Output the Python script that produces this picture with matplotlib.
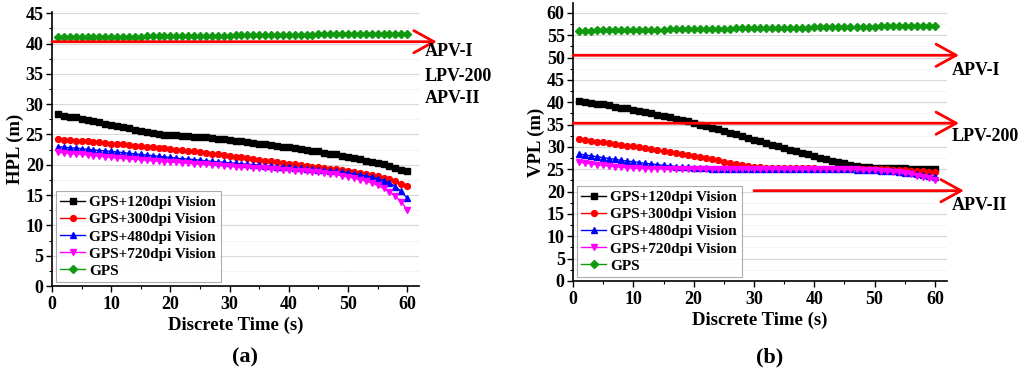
import matplotlib
matplotlib.use('Agg')
import matplotlib.pyplot as plt
from matplotlib.ticker import MultipleLocator
import numpy as np

plt.rcParams['font.family'] = ['Liberation Serif', 'DejaVu Serif']
plt.rcParams['font.weight'] = 'bold'
plt.rcParams['axes.labelweight'] = 'bold'

# =================================================
# data
t = list(range(1, 61))

hpl_120 = [28.3, 28.1, 27.9, 27.8, 27.6, 27.4, 27.2, 27.0, 26.8, 26.6,
           26.4, 26.2, 26.0, 25.8, 25.6, 25.4, 25.2, 25.0, 24.95, 24.9,
           24.85, 24.8, 24.7, 24.65, 24.55, 24.5, 24.4, 24.3, 24.2, 24.1,
           24.0, 23.9, 23.8, 23.65, 23.5, 23.4, 23.3, 23.15, 23.0, 22.9,
           22.75, 22.6, 22.5, 22.35, 22.2, 22.0, 21.85, 21.7, 21.5, 21.3,
           21.1, 20.9, 20.7, 20.5, 20.3, 20.1, 19.8, 19.5, 19.2, 18.9]
hpl_300 = [24.2, 24.15, 24.1, 24.0, 23.95, 23.9, 23.8, 23.7, 23.6, 23.5,
           23.4, 23.35, 23.25, 23.15, 23.05, 22.95, 22.9, 22.8, 22.7, 22.6,
           22.5, 22.4, 22.3, 22.2, 22.05, 21.95, 21.85, 21.7, 21.55, 21.4,
           21.3, 21.2, 21.05, 20.95, 20.8, 20.7, 20.55, 20.4, 20.3, 20.15,
           20.05, 19.9, 19.8, 19.7, 19.6, 19.5, 19.35, 19.25, 19.1, 18.95,
           18.8, 18.65, 18.5, 18.3, 18.1, 17.9, 17.6, 17.3, 16.9, 16.5]
hpl_480 = [23.0, 22.9, 22.8, 22.75, 22.65, 22.55, 22.45, 22.35, 22.3, 22.2,
           22.1, 22.0, 21.9, 21.8, 21.7, 21.6, 21.5, 21.4, 21.3, 21.2,
           21.1, 21.0, 20.95, 20.85, 20.75, 20.65, 20.55, 20.5, 20.4, 20.3,
           20.25, 20.15, 20.1, 20.0, 19.95, 19.85, 19.8, 19.7, 19.65, 19.55,
           19.5, 19.4, 19.35, 19.25, 19.2, 19.1, 19.0, 18.9, 18.8, 18.65,
           18.5, 18.35, 18.15, 17.95, 17.7, 17.4, 17.0, 16.4, 15.6, 14.5]
hpl_720 = [22.05, 21.95, 21.85, 21.75, 21.7, 21.6, 21.5, 21.4, 21.3, 21.2,
           21.1, 21.05, 20.95, 20.9, 20.8, 20.75, 20.65, 20.6, 20.5, 20.45,
           20.4, 20.3, 20.25, 20.2, 20.1, 20.05, 20.0, 19.9, 19.85, 19.75,
           19.7, 19.65, 19.6, 19.5, 19.45, 19.4, 19.3, 19.25, 19.2, 19.1,
           19.05, 19.0, 18.9, 18.85, 18.75, 18.65, 18.5, 18.4, 18.2, 18.0,
           17.8, 17.55, 17.3, 17.0, 16.6, 16.1, 15.5, 14.8, 13.9, 12.6]
hpl_gps = [41.00, 41.01, 41.02, 41.03, 41.04, 41.05, 41.07, 41.08, 41.09, 41.10,
           41.11, 41.12, 41.13, 41.14, 41.15, 41.17, 41.18, 41.19, 41.20, 41.21,
           41.22, 41.23, 41.24, 41.25, 41.27, 41.28, 41.29, 41.30, 41.31, 41.32,
           41.33, 41.34, 41.35, 41.37, 41.38, 41.39, 41.40, 41.41, 41.42, 41.43,
           41.44, 41.45, 41.47, 41.48, 41.49, 41.50, 41.51, 41.52, 41.53, 41.54,
           41.55, 41.57, 41.58, 41.59, 41.60, 41.61, 41.62, 41.63, 41.64, 41.65]

vpl_120 = [40.3, 40.1, 39.9, 39.7, 39.5, 39.3, 39.0, 38.8, 38.6, 38.3,
           38.0, 37.8, 37.5, 37.2, 36.9, 36.6, 36.3, 36.0, 35.7, 35.4,
           35.0, 34.7, 34.3, 34.0, 33.6, 33.2, 32.8, 32.4, 32.0, 31.6,
           31.3, 30.9, 30.5, 30.1, 29.7, 29.4, 29.0, 28.7, 28.3, 28.0,
           27.6, 27.3, 26.9, 26.6, 26.3, 26.0, 25.7, 25.5, 25.4, 25.3,
           25.3, 25.25, 25.2, 25.2, 25.2, 25.15, 25.15, 25.1, 25.1, 25.1]
vpl_300 = [31.8, 31.6, 31.4, 31.2, 31.0, 30.8, 30.6, 30.5, 30.3, 30.1,
           29.9, 29.7, 29.5, 29.3, 29.1, 28.9, 28.6, 28.4, 28.2, 28.0,
           27.7, 27.5, 27.2, 27.0, 26.7, 26.5, 26.2, 26.0, 25.7, 25.5,
           25.4, 25.35, 25.3, 25.3, 25.25, 25.25, 25.2, 25.2, 25.2, 25.2,
           25.15, 25.15, 25.15, 25.1, 25.1, 25.1, 25.1, 25.1, 25.05, 25.0,
           25.0, 24.95, 24.9, 24.85, 24.8, 24.7, 24.6, 24.5, 24.4, 24.3]
vpl_480 = [28.4, 28.2, 28.0, 27.8, 27.6, 27.4, 27.2, 27.0, 26.8, 26.7,
           26.5, 26.3, 26.2, 26.0, 25.9, 25.8, 25.6, 25.5, 25.4, 25.3,
           25.25, 25.2, 25.15, 25.1, 25.1, 25.05, 25.05, 25.0, 25.0, 25.0,
           25.0, 25.0, 25.0, 25.0, 25.0, 25.0, 25.0, 25.0, 25.0, 25.0,
           25.0, 25.0, 25.0, 25.0, 24.95, 24.95, 24.9, 24.9, 24.85, 24.8,
           24.7, 24.6, 24.5, 24.35, 24.2, 24.05, 23.9, 23.7, 23.5, 23.3]
vpl_720 = [26.6, 26.4, 26.2, 26.0, 25.85, 25.7, 25.55, 25.45, 25.35, 25.25,
           25.2, 25.15, 25.1, 25.1, 25.05, 25.05, 25.0, 25.0, 25.0, 25.0,
           25.0, 25.0, 25.0, 25.0, 25.0, 25.0, 25.0, 25.0, 25.0, 25.0,
           25.0, 25.0, 25.0, 25.0, 25.0, 25.0, 25.0, 25.0, 25.0, 25.0,
           25.0, 25.0, 25.0, 25.0, 24.95, 24.95, 24.95, 24.9, 24.9, 24.85,
           24.7, 24.6, 24.45, 24.3, 24.1, 23.9, 23.6, 23.3, 23.0, 22.7]
vpl_gps = [56.00, 56.02, 56.04, 56.06, 56.07, 56.09, 56.11, 56.13, 56.15, 56.17,
           56.19, 56.20, 56.22, 56.24, 56.26, 56.28, 56.30, 56.32, 56.34, 56.35,
           56.37, 56.39, 56.41, 56.43, 56.45, 56.47, 56.49, 56.50, 56.52, 56.54,
           56.56, 56.58, 56.60, 56.62, 56.64, 56.65, 56.67, 56.69, 56.71, 56.73,
           56.75, 56.77, 56.79, 56.80, 56.82, 56.84, 56.86, 56.88, 56.90, 56.92,
           56.94, 56.95, 56.97, 56.99, 57.01, 57.03, 57.05, 57.07, 57.09, 57.10]

labels = ['GPS+120dpi Vision', 'GPS+300dpi Vision', 'GPS+480dpi Vision',
          'GPS+720dpi Vision', 'GPS']
colors = ['black', 'red', 'blue', 'magenta', '#119911']
markers = ['s', 'o', '^', 'v', 'D']

# alert limits: (level, x start, x end) and their labels (text, x, y)
hpl_limits = [(40.3, 0, 65.0)]
hpl_limit_text = [('APV-I', 63.0, 38.7), ('LPV-200', 63.0, 34.5), ('APV-II', 63.0, 30.9)]
vpl_limits = [(50.5, 0, 64.0), (35.3, 0, 64.0), (20.2, 30.0, 64.8)]
vpl_limit_text = [('APV-I', 62.8, 47.2), ('LPV-200', 62.8, 32.3), ('APV-II', 62.8, 17.0)]


def draw_panel(ax, series, ylabel, ymax, limits, limit_text):
    for s, lab, c, mk in zip(series, labels, colors, markers):
        ms = 3.6 if mk == 'D' else 4.2
        ax.plot(t, s, color=c, marker=mk, markersize=ms, lw=1.0, label=lab)
    for lim in limits:
        ax.annotate('', xy=(lim[2], lim[0]), xytext=(lim[1], lim[0]),
                    annotation_clip=False,
                    arrowprops=dict(arrowstyle='->,head_length=1.45,head_width=0.8',
                                    color='red', lw=2.0, shrinkA=0, shrinkB=0))
    for txt, x, y in limit_text:
        ax.text(x, y, txt, fontsize=13, fontweight='bold', ha='left', va='center',
                clip_on=False)
    ax.set_xlim(0, 62)
    ax.set_ylim(0, ymax)
    ax.xaxis.set_major_locator(MultipleLocator(10))
    ax.xaxis.set_minor_locator(MultipleLocator(5))
    ax.yaxis.set_major_locator(MultipleLocator(5))
    ax.yaxis.set_minor_locator(MultipleLocator(2.5))
    ax.grid(axis='y', which='major', color='#d8d8d8', lw=0.8)
    ax.grid(axis='y', which='minor', color='#e2e2e2', lw=0.7, ls=':')
    ax.set_axisbelow(True)
    for sp in ['top', 'right']:
        ax.spines[sp].set_visible(False)
    ax.spines['left'].set_linewidth(1.2)
    ax.spines['bottom'].set_linewidth(1.2)
    ax.tick_params(which='major', direction='out', length=4, width=1.0, labelsize=13, pad=2)
    ax.tick_params(axis='x', which='major', pad=3.5)
    ax.tick_params(which='minor', direction='out', length=2, width=0.8)
    for lbl in ax.get_xticklabels() + ax.get_yticklabels():
        lbl.set_fontweight('bold')
    ax.set_xlabel('Discrete Time (s)', fontsize=13.5, fontweight='bold', labelpad=2.5)
    ax.set_ylabel(ylabel, fontsize=13.5, fontweight='bold', labelpad=1)
    leg = ax.legend(loc='lower left', frameon=True, fancybox=False,
                    edgecolor='#999999', handlelength=1.6, handletextpad=0.3,
                    labelspacing=0.22, borderpad=0.3, borderaxespad=0.25,
                    prop={'weight': 'bold', 'size': 11})
    leg.get_frame().set_linewidth(0.8)


fig = plt.figure(figsize=(10.24, 3.81), dpi=100)
ax1 = fig.add_axes([0.0508, 0.2493, 0.3584, 0.7192])
ax2 = fig.add_axes([0.5596, 0.2625, 0.3652, 0.7297])

draw_panel(ax1, [hpl_120, hpl_300, hpl_480, hpl_720, hpl_gps], 'HPL (m)', 45.2,
           hpl_limits, hpl_limit_text)
draw_panel(ax2, [vpl_120, vpl_300, vpl_480, vpl_720, vpl_gps], 'VPL (m)', 62.2,
           vpl_limits, vpl_limit_text)

fig.text(0.239, 0.063, '(a)', ha='center', va='center', fontsize=16, fontweight='bold')
fig.text(0.752, 0.063, '(b)', ha='center', va='center', fontsize=16, fontweight='bold')

fig.savefig('out.png', dpi=100)
